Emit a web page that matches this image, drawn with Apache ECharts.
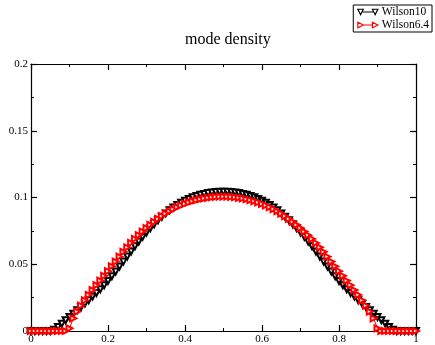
<!DOCTYPE html>
<html>
<head>
<meta charset="utf-8">
<script src="https://cdn.jsdelivr.net/npm/echarts@6/dist/echarts.min.js"></script>
<style>html,body{margin:0;padding:0;background:#fff;}#c{width:435px;height:345px;}</style>
</head>
<body>
<div id="c"></div>
<script>
var xs = [0,0.01,0.02,0.03,0.04,0.05,0.06,0.07,0.08,0.09,0.10,0.11,0.12,0.13,0.14,0.15,0.16,0.17,0.18,0.19,0.20,0.21,0.22,0.23,0.24,0.25,0.26,0.27,0.28,0.29,0.30,0.31,0.32,0.33,0.34,0.35,0.36,0.37,0.38,0.39,0.40,0.41,0.42,0.43,0.44,0.45,0.46,0.47,0.48,0.49,0.50,0.51,0.52,0.53,0.54,0.55,0.56,0.57,0.58,0.59,0.60,0.61,0.62,0.63,0.64,0.65,0.66,0.67,0.68,0.69,0.70,0.71,0.72,0.73,0.74,0.75,0.76,0.77,0.78,0.79,0.80,0.81,0.82,0.83,0.84,0.85,0.86,0.87,0.88,0.89,0.90,0.91,0.92,0.93,0.94,0.95,0.96,0.97,0.98,0.99,1.00];

var wilson10 = [0,0,0,0,0,0,0.001,0.003,0.0055,0.008,0.0105,0.013,0.0155,0.018,0.0205,0.023,0.0258,0.0285,0.0313,0.0343,0.0375,0.041,0.0445,0.0483,0.052,0.0558,0.0595,0.0635,0.067,0.0705,0.0738,0.077,0.080,0.0829,0.0856,0.0881,0.0904,0.0925,0.0944,0.0961,0.0976,0.0989,0.1001,0.1011,0.102,0.1027,0.1033,0.1038,0.1041,0.1043,0.1044,
0.1043,0.1041,0.1038,0.1033,0.1027,0.102,0.1011,0.1001,0.0989,0.0976,0.0961,0.0944,0.0925,0.0904,0.0881,0.0856,0.0829,0.080,0.077,0.0738,0.0705,0.067,0.0635,0.0595,0.0558,0.052,0.0483,0.0445,0.041,0.0375,0.0343,0.0313,0.0285,0.0258,0.023,0.0205,0.018,0.0155,0.013,0.0105,0.008,0.0055,0.003,0.001,0,0,0,0,0,0];

var wilson64 = [0,0,0,0,0,0,0,0,0,0,0.002,0.0095,0.0145,0.019,0.023,0.027,0.0307,0.0343,0.0378,0.0413,0.0448,0.0485,0.052,0.0557,0.0593,0.0627,0.066,0.069,0.0718,0.0745,0.0771,0.0795,0.0818,0.084,0.086,0.0879,0.0897,0.0913,0.0928,0.0941,0.0953,0.0963,0.0972,0.098,0.0987,0.0993,0.0998,0.1002,0.1004,0.1006,0.1006,
0.1006,0.1004,0.1002,0.0998,0.0993,0.0987,0.098,0.0972,0.0963,0.0953,0.0941,0.0928,0.0913,0.0897,0.0879,0.086,0.084,0.0818,0.0795,0.0771,0.0745,0.0718,0.069,0.066,0.0627,0.0593,0.0557,0.052,0.0485,0.0448,0.0413,0.0378,0.0343,0.0307,0.027,0.023,0.019,0.0145,0.0095,0.002,0,0,0,0,0,0,0,0,0,0];

var seriesNames = ['Wilson10', 'Wilson6.4'];
var titleText = 'mode density';

function pairs(ys) { return xs.map(function (x, i) { return [x, ys[i]]; }); }

var FONT = '"Liberation Serif", "Times New Roman", serif';
var axisCommon = {
  type: 'value',
  axisLine: { show: true, onZero: false, lineStyle: { color: '#000', width: 1.2 } },
  axisTick: { show: true, inside: true, length: 6, lineStyle: { color: '#000', width: 1.2 } },
  minorTick: { show: true, splitNumber: 2, length: 3, lineStyle: { color: '#000', width: 1 } },
  splitLine: { show: false },
  minorSplitLine: { show: false }
};
function ax(extra) { return Object.assign({}, JSON.parse(JSON.stringify(axisCommon)), extra); }

var iconDown = 'path://M0,0 L6,0 L3,6 Z M6,3 L16,3 L16,3.01 L6,3.01 Z M16,0 L22,0 L19,6 Z';
var iconRight = 'path://M0,0 L6,3 L0,6 Z M6,3 L16,3 L16,3.01 L6,3.01 Z M16,0 L22,3 L16,6 Z';

var chart = echarts.init(document.getElementById('c'), null, { renderer: 'canvas' });
chart.setOption({
  animation: false,
  backgroundColor: '#fff',
  title: {
    text: titleText,
    left: 180, top: 27,
    textStyle: { fontFamily: FONT, fontSize: 16, fontWeight: 'normal', color: '#000' }
  },
  legend: {
    data: [
      { name: seriesNames[0], icon: iconDown, itemStyle: { color: '#fff', borderColor: '#000', borderWidth: 1.2 } },
      { name: seriesNames[1], icon: iconRight, itemStyle: { color: '#fff', borderColor: '#ff0000', borderWidth: 1.2 } }
    ],
    orient: 'vertical',
    right: 3, top: 5,
    symbolRotate: 0,
    borderColor: '#000', borderWidth: 1, borderRadius: 0,
    padding: [1, 3, 1, 4],
    itemWidth: 20, itemHeight: 6, itemGap: 1,
    textStyle: { fontFamily: FONT, fontSize: 11.5, color: '#000', padding: [0, 0, 0, -1] }
  },
  grid: { left: 31, right: 19, top: 64, bottom: 11, containLabel: false },
  xAxis: [
    ax({ position: 'bottom', min: 0, max: 1, interval: 0.2,
      axisLabel: { show: true, margin: 3, fontFamily: FONT, fontSize: 11, color: '#000' } }),
    ax({ position: 'top', min: 0, max: 1, interval: 0.2, axisLabel: { show: false } })
  ],
  yAxis: [
    ax({ position: 'left', min: 0, max: 0.2, interval: 0.05,
      axisLabel: { show: true, margin: 3, fontFamily: FONT, fontSize: 11, color: '#000' } }),
    ax({ position: 'right', min: 0, max: 0.2, interval: 0.05, axisLabel: { show: false } })
  ],
  series: [
    {
      name: seriesNames[0], type: 'line', data: pairs(wilson10),
      symbol: 'emptyTriangle', symbolRotate: 180, symbolSize: 6,
      itemStyle: { color: '#000', borderColor: '#000', borderWidth: 0.9 },
      lineStyle: { color: '#000', width: 1 }, z: 2
    },
    {
      name: seriesNames[1], type: 'line', data: pairs(wilson64),
      symbol: 'emptyTriangle', symbolRotate: -90, symbolSize: 6,
      itemStyle: { color: '#ff0000', borderColor: '#ff0000', borderWidth: 0.9 },
      lineStyle: { color: '#ff0000', width: 1 }, z: 3
    }
  ]
});
</script>
</body>
</html>
